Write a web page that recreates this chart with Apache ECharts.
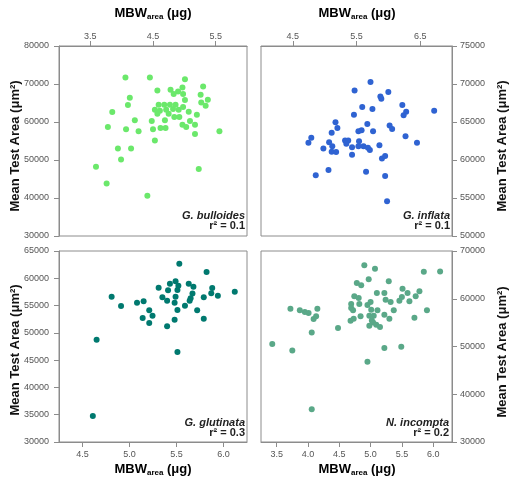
<!DOCTYPE html>
<html><head><meta charset="utf-8">
<script src="https://cdn.jsdelivr.net/npm/echarts@6/dist/echarts.min.js"></script>
<style>html,body{margin:0;padding:0;background:#fff}#c{width:510px;height:485px}</style>
</head><body><div id="c"></div>
<script>
// ---- data ----
const bullX = [4.06,4.45,5.01,5.30,4.57,4.78,4.90,4.97,4.83,4.98,4.13,4.10,5.26,5.375,5.27,5.34,5.01,3.85,4.59,4.68,4.77,4.86,4.53,4.61,4.71,4.82,4.91,4.98,4.57,4.69,4.84,4.92,5.07,5.20,4.21,4.48,5.09,3.78,4.07,4.27,4.50,4.62,4.70,4.97,5.03,5.17,5.17,5.56,4.53,3.94,4.15,3.99,3.59,5.23,3.76,4.41,4.75];
const bullY = [71700,71700,71270,69340,68290,68470,68030,69080,67340,67340,66380,64460,67160,65850,65150,64280,65770,62630,64540,64540,64540,64540,63230,62970,63230,63410,63230,63930,62180,60430,61320,61320,62710,61920,60430,60270,60270,58690,58070,57550,58070,58430,58430,59300,58690,59300,56860,57550,55110,53010,53010,50130,48210,47600,43840,40620,62180];
const inflX = [5.72,5.47,6.00,5.875,5.89,6.22,6.28,6.24,6.72,5.59,5.75,5.46,5.17,5.20,5.67,6.02,6.06,5.11,5.53,5.58,5.76,6.27,4.79,4.745,5.07,5.32,5.37,5.34,5.54,6.45,4.98,5.12,5.11,5.18,5.43,5.53,5.61,5.68,5.71,5.86,5.43,5.90,5.95,4.86,5.06,5.65,5.95,5.98];
const inflY = [70250,69150,68940,68370,68060,67230,66360,65880,66490,66970,66710,65970,64960,64220,64750,64530,64090,63570,63780,63910,63780,63130,62920,62260,62340,62560,62560,62130,62470,62260,61520,61820,61080,61040,61690,61820,61820,61600,61300,61950,60690,60210,60510,57980,58680,58470,57890,54580];
const glutX = [5.53,5.82,5.49,5.43,5.52,5.63,5.68,5.88,5.31,5.41,5.51,6.12,5.87,5.94,5.67,5.65,4.81,5.35,5.40,5.49,5.48,5.79,5.64,5.15,5.08,4.91,5.59,5.21,5.51,5.72,5.245,5.14,5.48,5.79,5.21,5.40,4.65,5.51,4.61];
const glutY = [62680,61150,59440,59010,58650,59010,58470,58220,58280,57800,57860,57550,57250,56820,57200,56330,56630,56510,55900,56630,55530,56510,55900,55780,55530,54920,54990,54130,54190,54130,53150,52730,52420,52600,51810,51200,48750,46500,34770];
const incoX = [4.90,5.07,5.85,6.11,4.97,4.78,4.85,5.29,5.51,5.10,5.22,5.59,5.78,4.74,4.81,5.50,5.72,5.46,5.62,5.24,5.32,5.00,4.69,4.82,4.95,3.72,3.87,3.95,4.01,4.15,4.09,4.13,4.69,4.72,5.01,5.11,5.37,5.90,4.84,4.98,5.05,5.22,4.73,4.68,5.02,5.30,5.70,5.04,5.09,4.98,5.15,4.48,4.06,3.43,3.75,5.22,5.49,4.95,4.06];
const incoY = [67020,66260,65630,65700,64080,63320,62820,63660,62120,61220,61220,61220,61560,60510,60160,60380,60510,59600,59470,59810,59330,59330,58910,58910,58700,57920,57570,57230,57020,57920,55760,56310,58070,57570,57710,57570,57570,57570,56310,56450,56450,56660,55820,55400,55470,55820,56030,55050,54560,54350,54080,53870,52950,50510,49170,49670,49940,46790,36860];

const tlXTicks = [3.5,4.5,5.5];
const trXTicks = [4.5,5.5,6.5];
const blXTicks = [4.5,5.0,5.5,6.0];
const brXTicks = [3.5,4.0,4.5,5.0,5.5,6.0];

const species = ['G. bulloides','G. inflata','G. glutinata','N. incompta'];
const r2 = ['0.1','0.1','0.3','0.2'];
const colors = ['#6be86b','#2f63d2','#00796f','#5aa888'];

// ---- chart ----
const FONT = 'Liberation Sans, Arial, sans-serif';
const grids = [
  {left:59, top:46, width:188, height:190},
  {left:261, top:46, width:191, height:190},
  {left:59, top:251, width:188, height:191},
  {left:261, top:251, width:191, height:191}
];
const lineStyle = {color:'#8c8c8c', width:1};
const labelBase = {color:'#555', fontSize:9, fontFamily:FONT};

function xAx(i, min, max, ticks, pos){
  return {
    type:'value', gridIndex:i, min:min, max:max, position:pos,
    axisLine:{show:true, onZero:false, lineStyle:lineStyle},
    axisTick:{show:true, length:5, lineStyle:lineStyle, customValues:ticks},
    axisLabel:Object.assign({margin: pos==='top'?5:8, customValues:ticks, formatter:v=>Number(v).toFixed(1)}, labelBase),
    splitLine:{show:false}
  };
}
function yAx(i, min, max, interval, pos){
  return {
    type:'value', gridIndex:i, min:min, max:max, interval:interval, position:pos,
    axisLine:{show:true, onZero:false, lineStyle:lineStyle},
    axisTick:{show:true, length:5, lineStyle:lineStyle},
    axisLabel:Object.assign({margin: pos==='left'?10:8, formatter:v=>String(v)}, labelBase),
    splitLine:{show:false}
  };
}
function zip(xs, ys){ return xs.map((x,k)=>[x, ys[k]]); }

const mbwRich = {
  b:{fontSize:13, fontWeight:'bold', fontFamily:FONT, color:'#111', lineHeight:16},
  s:{fontSize:8, fontWeight:'bold', fontFamily:FONT, color:'#111', lineHeight:8, padding:[8,0,0,0]}
};
function mbw(cx, cy){
  return {type:'text', x:cx, y:cy, style:{text:'{b|MBW}{s|area}{b| (μg)}', rich:mbwRich, align:'center', verticalAlign:'middle'}};
}
function ytitle(cx, cy){
  return {type:'text', x:cx, y:cy, rotation:Math.PI/2, style:{text:'Mean Test Area (μm²)', fontSize:13, fontWeight:'bold', fontFamily:FONT, fill:'#111', align:'center', verticalAlign:'middle'}};
}
function annot(rx, y1, i){
  return [
    {type:'text', x:rx, y:y1, style:{text:species[i], fontSize:11, fontWeight:'bold', fontStyle:'italic', fontFamily:FONT, fill:'#222', align:'right', verticalAlign:'middle'}},
    {type:'text', x:rx, y:y1+10, style:{text:'r² = '+r2[i], fontSize:11, fontWeight:'bold', fontFamily:FONT, fill:'#222', align:'right', verticalAlign:'middle'}}
  ];
}

const option = {
  animation:false,
  backgroundColor:'#fff',
  grid: grids.map(g=>Object.assign({show:true, borderColor:'#8c8c8c', borderWidth:1, backgroundColor:'#fff'}, g)),
  xAxis:[
    xAx(0, 3.0, 6.0, tlXTicks, 'top'),
    xAx(1, 4.0, 7.0, trXTicks, 'top'),
    xAx(2, 4.25, 6.25, blXTicks, 'bottom'),
    xAx(3, 3.25, 6.3, brXTicks, 'bottom')
  ],
  yAxis:[
    yAx(0, 30000, 80000, 10000, 'left'),
    yAx(1, 50000, 75000, 5000, 'right'),
    yAx(2, 30000, 65000, 5000, 'left'),
    yAx(3, 30000, 70000, 10000, 'right')
  ],
  series:[
    {type:'scatter', xAxisIndex:0, yAxisIndex:0, data:zip(bullX,bullY)},
    {type:'scatter', xAxisIndex:1, yAxisIndex:1, data:zip(inflX,inflY)},
    {type:'scatter', xAxisIndex:2, yAxisIndex:2, data:zip(glutX,glutY)},
    {type:'scatter', xAxisIndex:3, yAxisIndex:3, data:zip(incoX,incoY)}
  ].map((s,i)=>Object.assign(s,{symbol:'circle', symbolSize:6, itemStyle:{color:colors[i], opacity:1}, silent:true})),
  graphic:[
    mbw(153, 13), mbw(357, 13), mbw(153, 469), mbw(357, 469),
    ytitle(15, 146), ytitle(15, 350), ytitle(502, 146), ytitle(502, 352),
    ...annot(245, 216, 0), ...annot(450, 216, 1), ...annot(245, 423, 2), ...annot(449, 423, 3)
  ]
};
const chart = echarts.init(document.getElementById('c'), null, {renderer:'canvas'});
chart.setOption(option);
</script></body></html>
